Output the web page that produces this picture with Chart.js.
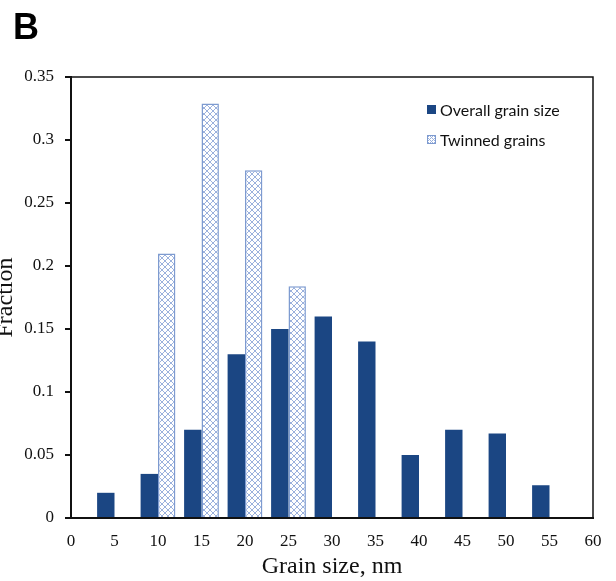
<!DOCTYPE html>
<html>
<head>
<meta charset="utf-8">
<script src="https://cdn.jsdelivr.net/npm/chart.js@4.4.1/dist/chart.umd.min.js"></script>
<style>
  body{margin:0;background:#fff;}
  #wrap{position:relative;width:616px;height:581px;}
  #leg{position:absolute;left:427px;top:94px;font:16px Lato,"Open Sans",sans-serif;color:#111;}
  .it{height:30px;display:flex;align-items:center;}
  .sw{width:9px;height:9px;margin-right:4px;box-sizing:border-box;}
  .s1{background:#1b4683;}
  .s2{border:1px solid #7e9bd0;background-color:#fff;
      background-image:repeating-linear-gradient(45deg,#9bb1dd 0 1px,transparent 1px 3px),repeating-linear-gradient(-45deg,#9bb1dd 0 1px,transparent 1px 3px);}
</style>
</head>
<body>
<div id="wrap">
  <canvas id="myChart" width="616" height="581"></canvas>
  <div id="leg">
    <div class="it"><span class="sw s1"></span>Overall grain size</div>
    <div class="it"><span class="sw s2"></span>Twinned grains</div>
  </div>
</div>
<script>
var grainSizes=[5,10,15,20,25,30,35,40,45,50,55];
var overallFrac=[0.02,0.035,0.07,0.13,0.15,0.16,0.14,0.05,0.07,0.067,0.026];
var twinnedFrac=[null,0.21,0.329,0.276,0.184,null,null,null,null,null,null];
var xTicks=[0,5,10,15,20,25,30,35,40,45,50,55,60];
var yTicks=[0,0.05,0.1,0.15,0.2,0.25,0.3,0.35];

// crosshatch fill for twinned bars
function hatch(){
  var c=document.createElement('canvas');c.width=6;c.height=6;
  var g=c.getContext('2d');
  g.fillStyle='#fff';g.fillRect(0,0,6,6);
  g.strokeStyle='#9bb1dd';g.lineWidth=1;
  g.beginPath();g.moveTo(0,0);g.lineTo(6,6);g.moveTo(6,0);g.lineTo(0,6);g.stroke();
  return g.createPattern(c,'repeat');
}

var frame={
  id:'frame',
  afterDraw:function(chart){
    var ctx=chart.ctx,a=chart.chartArea;
    ctx.save();
    ctx.strokeStyle='#111';ctx.lineWidth=1.5;
    ctx.beginPath();
    ctx.moveTo(a.left,a.top);ctx.lineTo(a.right,a.top);ctx.lineTo(a.right,a.bottom);
    ctx.stroke();
    ctx.fillStyle='#000';ctx.font='bold 36px "Liberation Sans",Arial,sans-serif';
    ctx.fillText('B',13,39);
    ctx.restore();
  }
};

var serif='"Liberation Serif","Times New Roman",serif';

new Chart(document.getElementById('myChart'),{
  type:'bar',
  data:{
    datasets:[{
      label:'Overall grain size',
      data:grainSizes.map(function(x,i){return {x:x,y:overallFrac[i]};}),
      backgroundColor:'#1b4683',
      borderWidth:0
    },{
      label:'Twinned grains',
      data:grainSizes.map(function(x,i){return {x:x,y:twinnedFrac[i]};}),
      backgroundColor:hatch(),
      borderColor:'#7e9bd0',
      borderWidth:1.5
    }]
  },
  options:{
    responsive:false,
    animation:false,
    categoryPercentage:0.8,
    barPercentage:1,
    layout:{padding:{left:-9,top:77,right:23,bottom:0}},
    plugins:{legend:{display:false},tooltip:{enabled:false}},
    scales:{
      x:{
        type:'linear',min:0,max:60,offset:false,
        afterBuildTicks:function(s){s.ticks=xTicks.map(function(v){return {value:v};});},
        afterFit:function(s){s.height=63;},
        grid:{drawOnChartArea:false,drawTicks:false},
        border:{color:'#111',width:2},
        ticks:{padding:13,color:'#111',font:{family:serif,size:17}},
        title:{display:true,text:'Grain size, nm',color:'#111',padding:0,font:{family:serif,size:24}}
      },
      y:{
        min:0,max:0.35,
        afterBuildTicks:function(s){s.ticks=yTicks.map(function(v){return {value:v};});},
        afterFit:function(s){s.width=80;},
        grid:{drawOnChartArea:false,drawTicks:true,tickLength:6,color:'#111',lineWidth:2},
        border:{color:'#111',width:2},
        ticks:{padding:11,color:'#111',font:{family:serif,size:17},
          callback:function(v){return String(+v.toFixed(2));}},
        title:{display:true,text:'Fraction',color:'#111',padding:0,font:{family:serif,size:24}}
      }
    }
  },
  plugins:[frame]
});
</script>
</body>
</html>
